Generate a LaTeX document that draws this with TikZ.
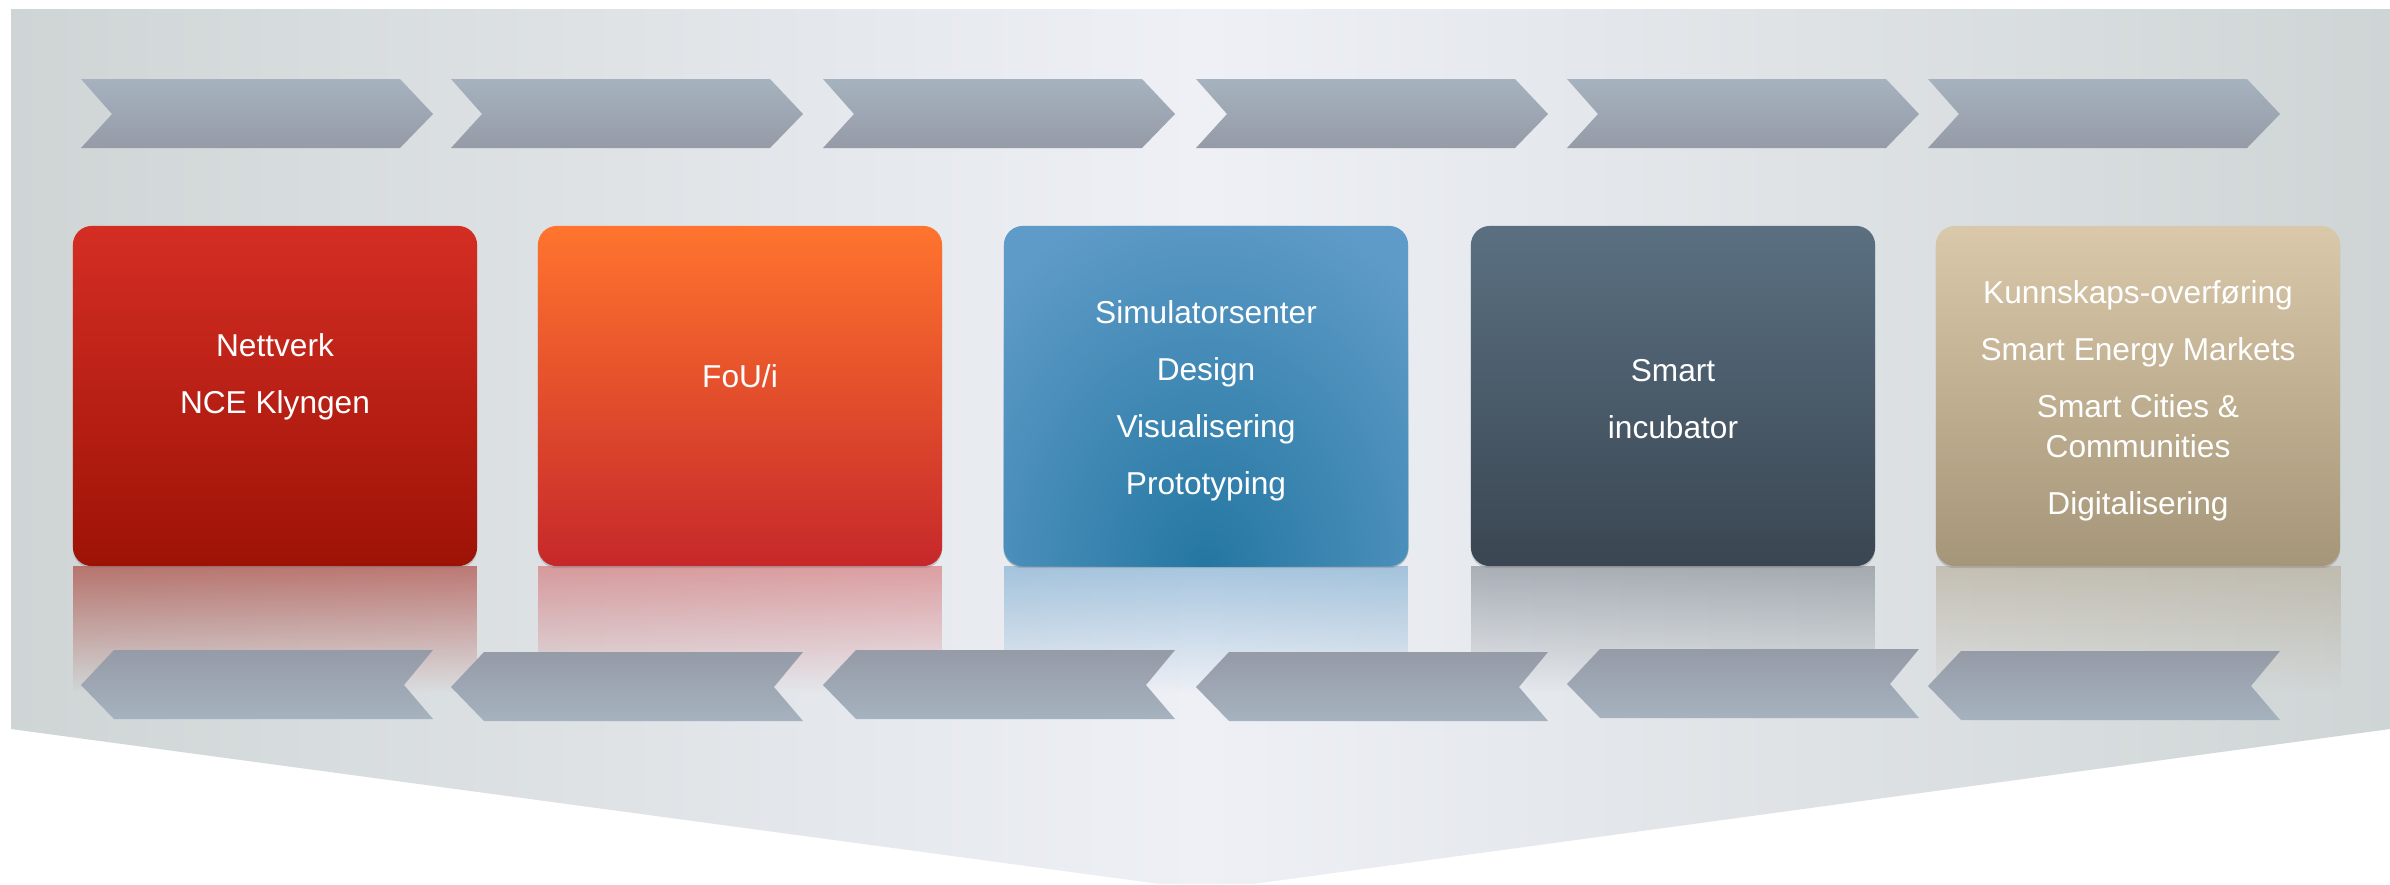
\documentclass[tikz,border=0pt]{standalone}
\usepackage{fontspec}
\setmainfont{Liberation Sans}
\usepackage{xcolor}
\usetikzlibrary{shadows,fadings,positioning}

\definecolor{bgside}{HTML}{CFD5D5}
\definecolor{bgmid}{HTML}{EEF0F6}
\definecolor{chevtop}{HTML}{A6B2BF}
\definecolor{chevbot}{HTML}{959BA7}
\definecolor{redtop}{HTML}{D42E24}
\definecolor{redbot}{HTML}{9E1206}
\definecolor{orangetop}{HTML}{FF742E}
\definecolor{orangebot}{HTML}{C6282A}
\definecolor{bluebase}{HTML}{5F9BC8}
\definecolor{bluedark}{HTML}{2477A2}
\definecolor{slatetop}{HTML}{5A7081}
\definecolor{slatebot}{HTML}{3A4652}
\definecolor{sandtop}{HTML}{D9C8A9}
\definecolor{sandbot}{HTML}{A69679}

\tikzfading[name=reflectfade, top color=transparent!0, bottom color=transparent!100]
\tikzfading[name=spotfade, inner color=transparent!0, outer color=transparent!100]

\tikzset{
  phase/.style={rounded corners=1.9mm, minimum width=4.04cm, minimum height=3.4cm,
    inner sep=0pt, drop shadow={shadow xshift=0pt, shadow yshift=-0.6pt, opacity=0.35}},
  phasetext/.style={text=white, align=center, font=\fontsize{9}{11.4}\selectfont},
  mirror/.style={fill=#1, fill opacity=0.5, path fading=reflectfade},
}

\begin{document}
\begin{tikzpicture}[x=0.01cm, y=-0.01cm]
      \fill[white] (0,0) rectangle (2390,884);
      \useasboundingbox (0,0) rectangle (2390,884);

      % background panel
      \path[left color=bgside, right color=bgside, middle color=bgmid]
        (11,9) -- (2390,9) -- (2390,729) -- (1253,884) -- (1160,884) -- (11,729) -- cycle;

      % chevrons on top
      \path[top color=chevtop, bottom color=chevbot] (81,79) -- ++(319,0) -- ++(33,35) -- ++(-33,34) -- ++(-319,0) -- ++(31,-34) -- cycle;
      \path[top color=chevtop, bottom color=chevbot] (451,79) -- ++(319,0) -- ++(33,35) -- ++(-33,34) -- ++(-319,0) -- ++(31,-34) -- cycle;
      \path[top color=chevtop, bottom color=chevbot] (823,79) -- ++(319,0) -- ++(33,35) -- ++(-33,34) -- ++(-319,0) -- ++(31,-34) -- cycle;
      \path[top color=chevtop, bottom color=chevbot] (1196,79) -- ++(319,0) -- ++(33,35) -- ++(-33,34) -- ++(-319,0) -- ++(31,-34) -- cycle;
      \path[top color=chevtop, bottom color=chevbot] (1567,79) -- ++(319,0) -- ++(33,35) -- ++(-33,34) -- ++(-319,0) -- ++(31,-34) -- cycle;
      \path[top color=chevtop, bottom color=chevbot] (1928,79) -- ++(319,0) -- ++(33,35) -- ++(-33,34) -- ++(-319,0) -- ++(31,-34) -- cycle;

      % reflections under the boxes
      \fill[mirror=redbot] (73,566) rectangle (477,692);
      \fill[mirror=orangebot!80] (538,566) rectangle (942,692);
      \fill[mirror=bluebase] (1004,566) rectangle (1408,692);
      \fill[mirror=slatebot!75] (1471,566) rectangle (1875,692);
      \fill[mirror=sandbot!90] (1936,566) rectangle (2341,692);

      % chevrons at the bottom
      \path[top color=chevbot, bottom color=chevtop] (114,650) -- ++(319,0) -- ++(-29,35) -- ++(29,34) -- ++(-319,0) -- ++(-33,-34) -- cycle;
      \path[top color=chevbot, bottom color=chevtop] (484,652) -- ++(319,0) -- ++(-29,35) -- ++(29,34) -- ++(-319,0) -- ++(-33,-34) -- cycle;
      \path[top color=chevbot, bottom color=chevtop] (856,650) -- ++(319,0) -- ++(-29,35) -- ++(29,34) -- ++(-319,0) -- ++(-33,-34) -- cycle;
      \path[top color=chevbot, bottom color=chevtop] (1229,652) -- ++(319,0) -- ++(-29,35) -- ++(29,34) -- ++(-319,0) -- ++(-33,-34) -- cycle;
      \path[top color=chevbot, bottom color=chevtop] (1600,649) -- ++(319,0) -- ++(-29,35) -- ++(29,34) -- ++(-319,0) -- ++(-33,-34) -- cycle;
      \path[top color=chevbot, bottom color=chevtop] (1961,651) -- ++(319,0) -- ++(-29,35) -- ++(29,34) -- ++(-319,0) -- ++(-33,-34) -- cycle;

      % the five boxes
      \node[phase, top color=redtop, bottom color=redbot] (b1) at (275,396) {};
      \node[phase, top color=orangetop, bottom color=orangebot] (b2) at (740,396) {};
      \node[phase, fill=bluebase] (b3) at (1206,396) {};
      \node[phase, top color=slatetop, bottom color=slatebot] (b4) at (1673,396) {};
      \node[phase, top color=sandtop, bottom color=sandbot] (b5) at (2138,396) {};

      % darker spot in the blue box
      \begin{scope}
        \clip[rounded corners=1.9mm] (b3.south west) rectangle (b3.north east);
        \fill[bluedark, path fading=spotfade] (1206,572) ellipse (300 and 380);
      \end{scope}

      \node[phasetext, yshift=0.195cm] (t1) at (b1) {Nettverk\\[4.8pt]NCE Klyngen};
      \node[phasetext, yshift=0.195cm] (t2) at (b2) {FoU/i};
      \node[phasetext, yshift=-0.045cm] (t3) at (b3) {Simulatorsenter\\[4.8pt]Design\\[4.8pt]Visualisering\\[4.8pt]Prototyping};
      \node[phasetext, yshift=-0.03cm] (t4) at (b4) {Smart\\[4.8pt]incubator};
      \node[phasetext, yshift=-0.045cm] (t5) at (b5) {Kunnskaps-overføring\\[4.8pt]Smart Energy Markets\\[4.8pt]Smart Cities \&\\Communities\\[4.8pt]Digitalisering};

\end{tikzpicture}
\end{document}
